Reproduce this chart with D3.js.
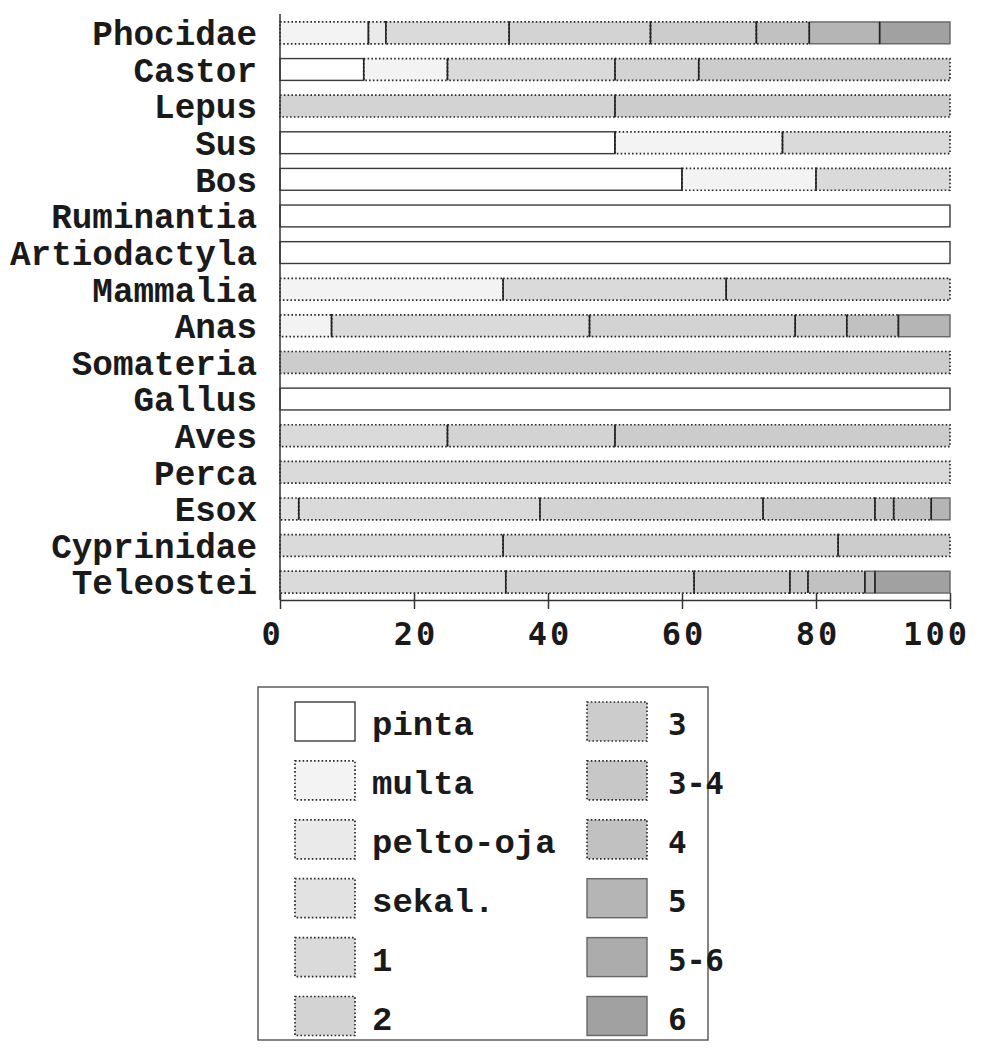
<!DOCTYPE html>
<html>
<head>
<meta charset="utf-8">
<script src="https://cdn.jsdelivr.net/npm/d3@7"></script>
<style>
  html, body { margin: 0; padding: 0; background: #fff; }
  svg { display: block; }
</style>
</head>
<body>
<svg id="chart" width="984" height="1057"></svg>
<script>
// Taxa, top to bottom
const taxa = ["Phocidae", "Castor", "Lepus", "Sus", "Bos", "Ruminantia", "Artiodactyla",
  "Mammalia", "Anas", "Somateria", "Gallus", "Aves", "Perca", "Esox", "Cyprinidae", "Teleostei"];

// Stages, in stacking order
const stages = ["pinta", "multa", "pelto-oja", "sekal.", "1", "2", "3", "3-4", "4", "5", "5-6", "6"];

// Share of finds (%) per stage, one row per taxon in the order of `taxa`
const shares = [
  [0, 13.2, 2.6, 0, 18.4, 21.1, 15.8, 0, 7.9, 10.5, 0, 10.5],   // Phocidae
  [12.5, 12.5, 0, 0, 25, 12.5, 37.5, 0, 0, 0, 0, 0],           // Castor
  [0, 0, 0, 0, 0, 50, 50, 0, 0, 0, 0, 0],                       // Lepus
  [50, 25, 0, 0, 25, 0, 0, 0, 0, 0, 0, 0],                      // Sus
  [60, 20, 0, 0, 20, 0, 0, 0, 0, 0, 0, 0],                      // Bos
  [100, 0, 0, 0, 0, 0, 0, 0, 0, 0, 0, 0],                       // Ruminantia
  [100, 0, 0, 0, 0, 0, 0, 0, 0, 0, 0, 0],                       // Artiodactyla
  [0, 33.3, 0, 0, 33.3, 33.4, 0, 0, 0, 0, 0, 0],                // Mammalia
  [0, 7.7, 0, 0, 38.5, 30.7, 7.7, 0, 7.7, 7.7, 0, 0],           // Anas
  [0, 0, 0, 0, 0, 0, 100, 0, 0, 0, 0, 0],                       // Somateria
  [100, 0, 0, 0, 0, 0, 0, 0, 0, 0, 0, 0],                       // Gallus
  [0, 0, 0, 0, 25, 25, 50, 0, 0, 0, 0, 0],                      // Aves
  [0, 0, 0, 0, 100, 0, 0, 0, 0, 0, 0, 0],                       // Perca
  [0, 0, 0, 2.8, 36.0, 33.3, 16.7, 2.8, 5.6, 2.8, 0, 0],        // Esox
  [0, 0, 0, 0, 33.3, 50, 16.7, 0, 0, 0, 0, 0],                  // Cyprinidae
  [0, 0, 0, 0, 33.7, 28.1, 14.3, 2.7, 8.5, 1.5, 0, 11.2]        // Teleostei
];

const xTicks = [0, 20, 40, 60, 80, 100];

// Fill greys and outline styles per stage
const fills = ["#ffffff", "#f3f3f3", "#eaeaea", "#e2e2e2", "#dadada", "#d3d3d3",
  "#cccccc", "#c7c7c7", "#c1c1c1", "#b5b5b5", "#acacac", "#a1a1a1"];
const strokeStyle = ["solid", "dot", "dot", "dot", "dot", "dot", "dot", "dot", "dot", "solid", "solid", "solid"];

const svg = d3.select("#chart");

const x = d3.scaleLinear().domain([0, 100]).range([280, 950]);
const y = d3.scaleBand().domain(taxa).range([15, 600]).paddingInner(0.404).paddingOuter(0.19);
const color = d3.scaleOrdinal().domain(stages).range(fills);
const lineKind = d3.scaleOrdinal().domain(stages).range(strokeStyle);

// Stack the shares
const rows = taxa.map((t, i) => {
  const r = { taxon: t };
  stages.forEach((s, j) => { r[s] = shares[i][j]; });
  return r;
});
const series = d3.stack().keys(stages)(rows);

function styleSeg(sel, key) {
  const kind = lineKind(key);
  sel.attr("fill", color(key))
    .attr("stroke", kind === "solid" ? (key === "pinta" ? "#3a3a3a" : "#666") : "#2a2a2a")
    .attr("stroke-width", kind === "solid" ? 1.4 : 1.7)
    .attr("stroke-dasharray", kind === "dot" ? "1.6,2.2" : null);
}

// Bars
const g = svg.append("g");
series.forEach(s => {
  const key = s.key;
  const segs = s.filter(d => d[1] - d[0] > 0);
  const sel = g.selectAll(null).data(segs).enter().append("rect")
    .attr("x", d => x(d[0]))
    .attr("y", d => y(d.data.taxon))
    .attr("width", d => x(d[1]) - x(d[0]))
    .attr("height", y.bandwidth());
  styleSeg(sel, key);
});

// Segment dividers
series.forEach((s, k) => {
  if (k === 0) return;
  s.filter(d => d[1] - d[0] > 0 && d[0] > 0).forEach(d => {
    g.append("line")
      .attr("x1", x(d[0])).attr("x2", x(d[0]))
      .attr("y1", y(d.data.taxon)).attr("y2", y(d.data.taxon) + y.bandwidth())
      .attr("stroke", "#222").attr("stroke-width", 1.6);
  });
});

// Category labels
svg.append("g").selectAll("text").data(taxa).enter().append("text")
  .attr("x", 257)
  .attr("y", d => y(d) + y.bandwidth() / 2)
  .attr("dy", "0.36em")
  .attr("text-anchor", "end")
  .attr("font-family", "'Liberation Mono', 'Courier New', monospace")
  .attr("font-weight", "bold")
  .attr("font-size", 34.3)
  .attr("fill", "#1a1a1a")
  .text(d => d);

// Y axis line
svg.append("line").attr("x1", 280).attr("x2", 280).attr("y1", 14).attr("y2", 600)
  .attr("stroke", "#333").attr("stroke-width", 1.5);

// X axis
const xAxis = d3.axisBottom(x).tickValues(xTicks).tickSizeInner(9).tickSizeOuter(0).tickPadding(13);
const ax = svg.append("g").attr("transform", "translate(0,600)").call(xAxis);
ax.select(".domain").attr("stroke", "#333").attr("stroke-width", 1.5);
ax.selectAll(".tick line").attr("stroke", "#333").attr("stroke-width", 1.5).attr("y1", -7).attr("y2", 9);
ax.selectAll(".tick text")
  .attr("font-family", "'DejaVu Sans Mono', monospace")
  .attr("font-weight", "bold")
  .attr("font-size", 32)
  .attr("letter-spacing", "3px")
  .attr("dx", d => d === 0 ? -8 : (d === 100 ? -14 : 1.5))
  .attr("fill", "#1a1a1a");

// Legend
const legend = svg.append("g");
legend.append("rect").attr("x", 258).attr("y", 687).attr("width", 450).attr("height", 353)
  .attr("fill", "#fff").attr("stroke", "#444").attr("stroke-width", 1.3);

const rowStep = 58.9;
stages.forEach((s, i) => {
  const col = Math.floor(i / 6);
  const row = i % 6;
  const sx = col === 0 ? 295 : 587;
  const sy = 702 + row * rowStep;
  const r = legend.append("rect").attr("x", sx).attr("y", sy).attr("width", 60).attr("height", 39);
  styleSeg(r, s);
  legend.append("text")
    .attr("x", col === 0 ? 372 : 668)
    .attr("y", sy + 33)
    .attr("font-family", col === 0 ? "'Liberation Mono', 'Courier New', monospace" : "'DejaVu Sans Mono', monospace")
    .attr("font-weight", "bold")
    .attr("font-size", col === 0 ? 34 : 31)
    .attr("fill", "#1a1a1a")
    .text(s);
});
</script>
</body>
</html>
